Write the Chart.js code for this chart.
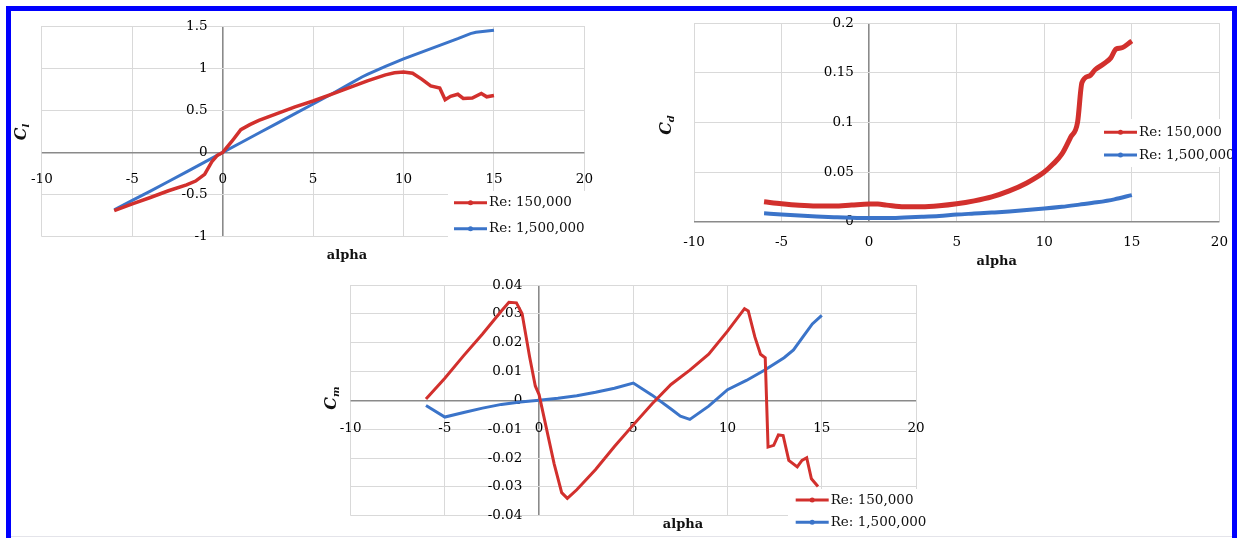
<!DOCTYPE html>
<html>
<head>
<meta charset="utf-8">
<script src="https://cdn.jsdelivr.net/npm/chart.js"></script>
<style>
  html, body { margin: 0; padding: 0; background: #fff; }
  body { width: 1241px; height: 538px; position: relative; overflow: hidden; }
  canvas { position: absolute; }
  #frame { position: absolute; left: 6px; top: 6px; width: 1221px; height: 560px; border: 5px solid #0000fe; border-bottom: none; pointer-events: none; }
  #edge { position: absolute; left: 11px; top: 536px; width: 1221px; height: 1px; background: #e4e4ea; }
</style>
</head>
<body>
<canvas id="cl" width="600" height="260" style="left:12px;top:12px"></canvas>
<canvas id="cd" width="611" height="258" style="left:630px;top:12px"></canvas>
<canvas id="cm" width="660" height="266" style="left:300px;top:272px"></canvas>
<div id="edge"></div>
<div id="frame"></div>
<script>
// series names
const seriesNames = ["Re: 150,000", "Re: 1,500,000"];

// tick values
const alphaTicks = [-10, -5, 0, 5, 10, 15, 20];
const clTicks = [-1, -0.5, 0, 0.5, 1, 1.5];
const cdTicks = [0, 0.05, 0.1, 0.15, 0.2];
const cmTicks = [-0.04, -0.03, -0.02, -0.01, 0, 0.01, 0.02, 0.03, 0.04];

// lift coefficient
const clAlphaLow = [-6, -5, -4, -3, -2, -1.5, -1, -0.6, -0.3, 0, 0.5, 1, 1.5, 2, 3, 4, 5, 6, 7, 8, 9, 9.5, 10, 10.5, 11, 11.5, 12, 12.3, 12.6, 13, 13.3, 13.8, 14.3, 14.6, 15];
const clLow = [-0.69, -0.61, -0.535, -0.455, -0.385, -0.34, -0.26, -0.11, -0.035, 0, 0.13, 0.27, 0.33, 0.38, 0.46, 0.54, 0.61, 0.69, 0.77, 0.85, 0.92, 0.945, 0.955, 0.94, 0.87, 0.79, 0.765, 0.625, 0.665, 0.69, 0.64, 0.645, 0.7, 0.66, 0.675];
const clAlphaHigh = [-6, -5, -4, -3, -2, -1, 0, 1, 2, 3, 4, 5, 6, 7, 7.7, 8, 9, 10, 11, 12, 13, 13.7, 14, 15];
const clHigh = [-0.68, -0.57, -0.46, -0.345, -0.23, -0.115, 0, 0.115, 0.23, 0.345, 0.46, 0.575, 0.69, 0.81, 0.895, 0.925, 1.02, 1.11, 1.19, 1.27, 1.35, 1.41, 1.425, 1.45];

// drag coefficient
const cdAlphaLow = [-6, -5, -4, -3, -2, -1, 0, 0.5, 1, 2, 3, 4, 5, 6, 7, 8, 9, 10, 10.5, 11, 11.5, 11.9, 12.15, 12.6, 12.9, 13.4, 13.8, 14.1, 14.4, 15];
const cdLow = [0.02, 0.018, 0.0165, 0.0158, 0.0158, 0.0168, 0.0177, 0.0177, 0.0167, 0.015, 0.015, 0.016, 0.018, 0.021, 0.025, 0.031, 0.039, 0.05, 0.058, 0.068, 0.085, 0.1, 0.14, 0.147, 0.153, 0.159, 0.165, 0.174, 0.175, 0.182];
const cdAlphaHigh = [-6, -5, -4, -3, -2, -1, 0, 1, 2, 3, 4, 5, 6, 7, 8, 9, 10, 11, 12, 13, 14, 15];
const cdHigh = [0.0085, 0.0073, 0.0062, 0.0053, 0.0046, 0.004, 0.0037, 0.0037, 0.0042, 0.0049, 0.0058, 0.0072, 0.0082, 0.0092, 0.0103, 0.0117, 0.0132, 0.015, 0.0172, 0.0195, 0.0225, 0.0268];

// moment coefficient
const cmAlphaLow = [-6, -5, -4, -3, -2, -1.6, -1.2, -0.9, -0.5, -0.2, 0, 0.2, 0.5, 0.8, 1.2, 1.5, 2, 3, 4, 5, 6, 7, 8, 9, 10, 10.9, 11.1, 11.45, 11.75, 12, 12.15, 12.45, 12.7, 12.95, 13.25, 13.7, 13.95, 14.2, 14.45, 14.8];
const cmLow = [0.0005, 0.0077, 0.0155, 0.023, 0.031, 0.034, 0.0338, 0.03, 0.015, 0.005, 0.002, -0.004, -0.013, -0.022, -0.032, -0.034, -0.031, -0.024, -0.016, -0.0085, -0.0012, 0.0055, 0.0105, 0.016, 0.024, 0.0318, 0.031, 0.022, 0.016, 0.0148, -0.0162, -0.0156, -0.012, -0.0122, -0.0208, -0.0231, -0.0208, -0.0199, -0.0272, -0.0299];
const cmAlphaHigh = [-6, -5, -4, -3, -2, -1, 0, 1, 2, 3, 4, 5, 6, 7, 7.5, 8, 9, 10, 11, 12, 13, 13.5, 14, 14.5, 15];
const cmHigh = [-0.0018, -0.0058, -0.0042, -0.0027, -0.0014, -0.0006, 0, 0.0007, 0.0016, 0.0028, 0.0042, 0.006, 0.0018, -0.003, -0.0055, -0.0066, -0.002, 0.0037, 0.0069, 0.0106, 0.0148, 0.0175, 0.022, 0.0265, 0.0295];

const RED = "#d2302d";
const BLUE = "#3b74c9";
const SERIF = '"DejaVu Serif", "Liberation Serif", serif';

const pts = (xs, ys) => xs.map((x, i) => ({ x: x, y: ys[i] }));

// legend, axis titles (y title has a subscript)
const decor = {
  id: "decor",
  afterDraw(chart, args, o) {
    const ctx = chart.ctx;
    ctx.save();
    ctx.fillStyle = "#fff";
    ctx.fillRect(o.box[0], o.box[1], o.box[2], o.box[3]);
    chart.data.datasets.forEach((ds, i) => {
      const y = o.legY + i * o.legGap;
      ctx.strokeStyle = ds.borderColor;
      ctx.lineWidth = 3;
      ctx.beginPath();
      ctx.moveTo(o.legX, y);
      ctx.lineTo(o.legX + 33, y);
      ctx.stroke();
      ctx.fillStyle = ds.borderColor;
      ctx.beginPath();
      ctx.arc(o.legX + 16.5, y, 2.5, 0, Math.PI * 2);
      ctx.fill();
      ctx.fillStyle = "#111";
      ctx.font = "13.5px " + SERIF;
      ctx.textAlign = "left";
      ctx.textBaseline = "middle";
      ctx.fillText(ds.label, o.legX + 35, y);
    });

    ctx.font = "bold 13px " + SERIF;
    ctx.textAlign = "center";
    ctx.fillStyle = "#111";
    ctx.fillText("alpha", o.xTitle[0], o.xTitle[1]);

    ctx.translate(o.yTitle[0], o.yTitle[1]);
    ctx.rotate(-Math.PI / 2);
    ctx.textAlign = "left";
    ctx.font = "italic bold 16px " + SERIF;
    const w1 = ctx.measureText("C").width;
    ctx.font = "italic bold 10px " + SERIF;
    const w2 = ctx.measureText(o.sub).width;
    const x0 = -(w1 + w2) / 2;
    ctx.font = "italic bold 16px " + SERIF;
    ctx.fillText("C", x0, 0);
    ctx.font = "italic bold 10px " + SERIF;
    ctx.fillText(o.sub, x0 + w1, 5);
    ctx.restore();
  }
};

const gridColor = c => (c.tick && c.tick.value === 0 ? "#8a8a8a" : "#d9d9d9");
const gridWidth = c => (c.tick && c.tick.value === 0 ? 1.6 : 1);

function makeChart(id, cfg) {
  new Chart(document.getElementById(id), {
    type: "line",
    data: {
      datasets: [
        { label: seriesNames[0], data: cfg.low, borderColor: RED, backgroundColor: RED, borderWidth: cfg.widths[0], pointRadius: 0, tension: 0, cubicInterpolationMode: cfg.smooth ? "monotone" : "default" },
        { label: seriesNames[1], data: cfg.high, borderColor: BLUE, backgroundColor: BLUE, borderWidth: cfg.widths[1], pointRadius: 0, tension: 0, cubicInterpolationMode: cfg.smooth ? "monotone" : "default" }
      ]
    },
    options: {
      responsive: false,
      animation: false,
      devicePixelRatio: 1,
      layout: { padding: cfg.pad },
      plugins: {
        legend: { display: false },
        tooltip: { enabled: false },
        decor: cfg.decor
      },
      scales: {
        x: {
          type: "linear",
          min: alphaTicks[0],
          max: alphaTicks[alphaTicks.length - 1],
          position: { y: 0 },
          afterBuildTicks: s => { s.ticks = alphaTicks.map(v => ({ value: v })); },
          border: { display: false },
          grid: { color: gridColor, lineWidth: gridWidth, drawTicks: false },
          ticks: { padding: cfg.xPad, autoSkip: false, maxRotation: 0, color: "#000", font: { family: SERIF, size: 13.5 }, callback: v => String(v) }
        },
        y: {
          type: "linear",
          min: cfg.yTicks[0],
          max: cfg.yTicks[cfg.yTicks.length - 1],
          position: { x: cfg.yAt },
          afterBuildTicks: s => { s.ticks = cfg.yTicks.map(v => ({ value: v })); },
          border: { display: false },
          grid: { color: gridColor, lineWidth: gridWidth, drawTicks: false },
          ticks: { autoSkip: false, color: "#000", font: { family: SERIF, size: 13.5 }, callback: v => String(v) }
        }
      }
    },
    plugins: [decor]
  });
}

makeChart("cl", {
  low: pts(clAlphaLow, clLow),
  high: pts(clAlphaHigh, clHigh),
  yTicks: clTicks,
  yAt: -0.84,
  xPad: 19,
  widths: [3.5, 3],
  pad: { left: 20.6, right: 24.5, top: 14, bottom: 35.3 },
  decor: { box: [436, 179, 164, 54], legX: 442, legY: 190.7, legGap: 26, xTitle: [335, 243.7], yTitle: [9.7, 120], sub: "l" }
});

makeChart("cd", {
  low: pts(cdAlphaLow, cdLow),
  high: pts(cdAlphaHigh, cdHigh),
  yTicks: cdTicks,
  yAt: -0.87,
  xPad: 13,
  smooth: true,
  widths: [5, 4],
  pad: { left: 64, right: 14, top: 9.7, bottom: 48.3 },
  decor: { box: [470, 107, 141, 48], legX: 474, legY: 120.3, legGap: 22.7, xTitle: [366.7, 249.7], yTitle: [36.7, 113], sub: "d" }
});

makeChart("cm", {
  low: pts(cmAlphaLow, cmLow),
  high: pts(cmAlphaHigh, cmHigh),
  yTicks: cmTicks,
  yAt: -0.89,
  xPad: 20,
  widths: [3, 3],
  pad: { left: 50.6, right: 44, top: 13, bottom: 22.3 },
  decor: { box: [488, 217, 172, 49], legX: 495.7, legY: 228, legGap: 22.3, xTitle: [383, 253], yTitle: [31.7, 126], sub: "m" }
});
</script>
</body>
</html>
